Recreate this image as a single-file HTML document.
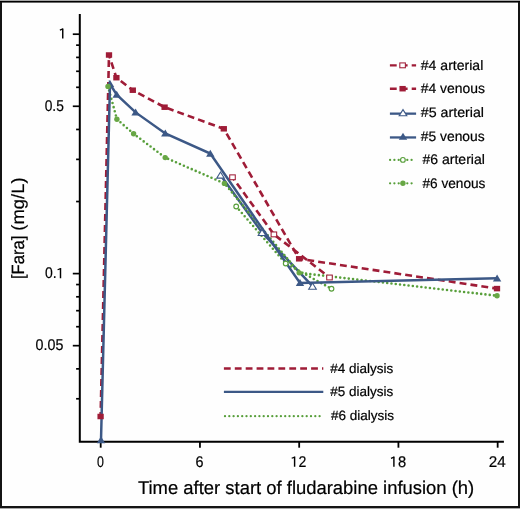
<!DOCTYPE html>
<html><head><meta charset="utf-8"><style>
html,body{margin:0;padding:0;background:#fff;}
svg{display:block;will-change:transform;}
text{font-family:"Liberation Sans",sans-serif;text-rendering:geometricPrecision;stroke:#000;stroke-width:0.2px;}
</style></head><body>
<svg width="520" height="509" viewBox="0 0 520 509">
<rect x="0" y="0" width="520" height="509" fill="#a8a8a8"/>
<rect x="0" y="1" width="520" height="507" fill="#141414"/>
<rect x="0" y="1" width="520" height="1" fill="#000"/>
<rect x="2" y="2" width="516" height="1" fill="#6a6a6a"/>
<rect x="2" y="3" width="516" height="503" fill="#fefefe"/>
<g stroke="#000" stroke-width="2" fill="none">
<path d="M79.8 14 V442.8 M78.8 441.8 H503.9"/>
<path d="M72.8 34.20 H80" stroke-width="1.7"/>
<path d="M72.8 106.27 H80" stroke-width="1.7"/>
<path d="M72.8 273.60 H80" stroke-width="1.7"/>
<path d="M72.8 345.67 H80" stroke-width="1.7"/>
<path d="M76.1 45.15 H80" stroke-width="1.7"/>
<path d="M76.1 57.40 H80" stroke-width="1.7"/>
<path d="M76.1 71.28 H80" stroke-width="1.7"/>
<path d="M76.1 87.31 H80" stroke-width="1.7"/>
<path d="M76.1 129.47 H80" stroke-width="1.7"/>
<path d="M76.1 159.38 H80" stroke-width="1.7"/>
<path d="M76.1 201.53 H80" stroke-width="1.7"/>
<path d="M76.1 284.55 H80" stroke-width="1.7"/>
<path d="M76.1 296.80 H80" stroke-width="1.7"/>
<path d="M76.1 310.68 H80" stroke-width="1.7"/>
<path d="M76.1 326.71 H80" stroke-width="1.7"/>
<path d="M76.1 368.87 H80" stroke-width="1.7"/>
<path d="M76.1 398.78 H80" stroke-width="1.7"/>
<path d="M100.70 441.8 V447.7" stroke-width="1.8"/>
<path d="M199.94 441.8 V447.7" stroke-width="1.8"/>
<path d="M299.18 441.8 V447.7" stroke-width="1.8"/>
<path d="M398.42 441.8 V447.7" stroke-width="1.8"/>
<path d="M497.66 441.8 V447.7" stroke-width="1.8"/>
</g>
<g font-family="Liberation Sans" fill="#000">
<path d="M62.03 28.65 L63.47 28.40 L63.47 38.40 L62.03 38.40 Z" fill="#000"/>
<path d="M62.95 28.95 L59.85 30.15" stroke="#000" stroke-width="1.25" fill="none"/>
<text transform="translate(44.64 110.60) scale(0.8889 1)" font-size="15.5" >0.5</text>
<text transform="translate(44.94 278.30) scale(0.9011 1)" font-size="15.5" >0.</text>
<path d="M59.78 268.25 L61.22 268.00 L61.22 278.20 L59.78 278.20 Z" fill="#000"/>
<path d="M60.70 268.55 L57.60 269.75" stroke="#000" stroke-width="1.25" fill="none"/>
<text transform="translate(35.62 350.10) scale(0.9212 1)" font-size="15.5" >0.05</text>
<text transform="translate(96.90 466.90) scale(0.8000 1)" font-size="15.5" >0</text>
<text transform="translate(195.61 466.90) scale(0.9263 1)" font-size="15.5" >6</text>
<text transform="translate(488.86 466.90) scale(0.9812 1)" font-size="15.5" >24</text>
<path d="M293.88 456.75 L295.32 456.50 L295.32 466.85 L293.88 466.85 Z" fill="#000"/>
<path d="M294.80 457.05 L291.70 458.25" stroke="#000" stroke-width="1.25" fill="none"/>
<text transform="translate(298.52 466.90) scale(0.9123 1)" font-size="15.5" >2</text>
<path d="M393.18 456.85 L394.62 456.60 L394.62 466.85 L393.18 466.85 Z" fill="#000"/>
<path d="M394.10 457.15 L391.00 458.35" stroke="#000" stroke-width="1.25" fill="none"/>
<text transform="translate(398.01 466.90) scale(0.9492 1)" font-size="15.5" >8</text>
<text transform="translate(137.93 493.80) scale(0.9961 1)" font-size="18.5" >Time after start of fludarabine infusion (h)</text>
<g transform="translate(23.75 277.9) rotate(-90)"><text transform="translate(-1.17 0.00) scale(0.9368 1)" font-size="17.8" >[Fara]</text><text transform="translate(47.24 0.00) scale(1.0351 1)" font-size="17.8" >(mg/L)</text></g>
</g>
<path d="M232.50 177.30 L273.90 234.40" fill="none" stroke="#9f1c37" stroke-width="2.6" stroke-dasharray="6.9 4.1" stroke-dashoffset="3.4"/>
<path d="M273.90 234.40 L329.50 277.50" fill="none" stroke="#9f1c37" stroke-width="2.6" stroke-dasharray="6.9 4.1" stroke-dashoffset="9.0"/>
<path d="M100.60 416.50 L109.00 55.00" fill="none" stroke="#9f1c37" stroke-width="2.6" stroke-dasharray="6.9 4.1" stroke-dashoffset="2.4"/>
<path d="M109.00 55.00 L116.40 77.70" fill="none" stroke="#9f1c37" stroke-width="2.6" stroke-dasharray="6.9 4.1" stroke-dashoffset="3.3"/>
<path d="M116.40 77.70 L132.80 90.20" fill="none" stroke="#9f1c37" stroke-width="2.6" stroke-dasharray="6.9 4.1" stroke-dashoffset="5.5"/>
<path d="M132.80 90.20 L164.60 107.20" fill="none" stroke="#9f1c37" stroke-width="2.6" stroke-dasharray="6.9 4.1" stroke-dashoffset="4.8"/>
<path d="M164.60 107.20 L223.80 128.80" fill="none" stroke="#9f1c37" stroke-width="2.6" stroke-dasharray="6.9 4.1" stroke-dashoffset="8.4"/>
<path d="M223.80 128.80 L299.10 258.80" fill="none" stroke="#9f1c37" stroke-width="2.6" stroke-dasharray="6.9 4.1" stroke-dashoffset="5.4"/>
<path d="M299.10 258.80 L497.00 288.60" fill="none" stroke="#9f1c37" stroke-width="2.6" stroke-dasharray="6.9 4.1" stroke-dashoffset="2.7"/>
<path d="M220.50 175.10 L262.00 232.50 L312.50 286.20" fill="none" stroke="#3c5886" stroke-width="2.5" stroke-linejoin="miter" stroke-miterlimit="10"/>
<path d="M236.20 206.50 L285.70 263.50 L331.50 288.70" fill="none" stroke="#589f3b" stroke-width="2.6" stroke-dasharray="0 4.3" stroke-linecap="round"/>
<path d="M108.00 86.40 L116.90 119.20 L133.60 133.80 L165.20 157.60 L224.40 183.40 L299.20 272.85 L497.05 295.75" fill="none" stroke="#589f3b" stroke-width="2.6" stroke-dasharray="0 4.3" stroke-linecap="round"/>
<path d="M101.00 440.20 L110.00 84.00 L116.70 94.60 L135.60 112.40 L165.30 133.40 L210.30 153.60 L300.00 283.00 L497.10 278.30" fill="none" stroke="#3c5886" stroke-width="2.5" stroke-linejoin="miter" stroke-miterlimit="10"/>
<rect x="229.72" y="174.87" width="5.55" height="4.85" fill="#fff" stroke="#9f1c37" stroke-width="1.05"/>
<rect x="271.12" y="231.97" width="5.55" height="4.85" fill="#fff" stroke="#9f1c37" stroke-width="1.05"/>
<rect x="326.72" y="275.07" width="5.55" height="4.85" fill="#fff" stroke="#9f1c37" stroke-width="1.05"/>
<rect x="97.45" y="413.75" width="6.3" height="5.5" fill="#9f1c37"/>
<rect x="105.85" y="52.25" width="6.3" height="5.5" fill="#9f1c37"/>
<rect x="113.25" y="74.95" width="6.3" height="5.5" fill="#9f1c37"/>
<rect x="129.65" y="87.45" width="6.3" height="5.5" fill="#9f1c37"/>
<rect x="161.45" y="104.45" width="6.3" height="5.5" fill="#9f1c37"/>
<rect x="220.65" y="126.05" width="6.3" height="5.5" fill="#9f1c37"/>
<rect x="295.95" y="256.05" width="6.3" height="5.5" fill="#9f1c37"/>
<rect x="493.85" y="285.85" width="6.3" height="5.5" fill="#9f1c37"/>
<path d="M220.50 171.96 L224.30 178.15 L216.70 178.15 Z" fill="#fff" stroke="#3c5886" stroke-width="1.1" stroke-linejoin="miter"/>
<path d="M262.00 229.36 L265.80 235.55 L258.20 235.55 Z" fill="#fff" stroke="#3c5886" stroke-width="1.1" stroke-linejoin="miter"/>
<path d="M312.50 283.06 L316.30 289.25 L308.70 289.25 Z" fill="#fff" stroke="#3c5886" stroke-width="1.1" stroke-linejoin="miter"/>
<path d="M101.00 436.30 L105.20 443.30 L96.80 443.30 Z" fill="#3c5886"/>
<path d="M110.00 80.10 L114.20 87.10 L105.80 87.10 Z" fill="#3c5886"/>
<path d="M116.70 90.70 L120.90 97.70 L112.50 97.70 Z" fill="#3c5886"/>
<path d="M135.60 108.50 L139.80 115.50 L131.40 115.50 Z" fill="#3c5886"/>
<path d="M165.30 129.50 L169.50 136.50 L161.10 136.50 Z" fill="#3c5886"/>
<path d="M210.30 149.70 L214.50 156.70 L206.10 156.70 Z" fill="#3c5886"/>
<path d="M300.00 279.10 L304.20 286.10 L295.80 286.10 Z" fill="#3c5886"/>
<path d="M497.10 274.40 L501.30 281.40 L492.90 281.40 Z" fill="#3c5886"/>
<circle cx="236.20" cy="206.50" r="2.35" fill="#fff" stroke="#589f3b" stroke-width="1.15"/>
<circle cx="285.70" cy="263.50" r="2.35" fill="#fff" stroke="#589f3b" stroke-width="1.15"/>
<circle cx="331.50" cy="288.70" r="2.35" fill="#fff" stroke="#589f3b" stroke-width="1.15"/>
<circle cx="108.00" cy="86.40" r="2.7" fill="#68a745"/>
<circle cx="116.90" cy="119.20" r="2.7" fill="#68a745"/>
<circle cx="133.60" cy="133.80" r="2.7" fill="#68a745"/>
<circle cx="165.20" cy="157.60" r="2.7" fill="#68a745"/>
<circle cx="224.40" cy="183.40" r="2.7" fill="#68a745"/>
<circle cx="299.20" cy="272.85" r="2.7" fill="#68a745"/>
<circle cx="497.05" cy="295.75" r="2.7" fill="#68a745"/>
<g font-family="Liberation Sans" fill="#000">
<path d="M389.9 65.35 H416.1" fill="none" stroke="#9f1c37" stroke-width="2.4" stroke-dasharray="6.8 4.1"/>
<rect x="399.82" y="62.92" width="5.55" height="4.85" fill="#fff" stroke="#9f1c37" stroke-width="1.05"/>
<text transform="translate(420.80 69.60) scale(1.0186 1)" font-size="13.8" >#4 arterial</text>
<path d="M389.9 88.7 H416.1" fill="none" stroke="#9f1c37" stroke-width="2.4" stroke-dasharray="6.8 4.1"/>
<rect x="399.45" y="85.95" width="6.3" height="5.5" fill="#9f1c37"/>
<text transform="translate(420.80 93.30) scale(1.0075 1)" font-size="13.8" >#4 venous</text>
<path d="M389.9 113.65 H416.1" fill="none" stroke="#3c5886" stroke-width="2.3"/>
<path d="M403.00 109.61 L406.80 115.80 L399.20 115.80 Z" fill="#fff" stroke="#3c5886" stroke-width="1.1" stroke-linejoin="miter"/>
<text transform="translate(420.80 116.90) scale(1.0302 1)" font-size="13.8" >#5 arterial</text>
<path d="M389.9 137.45 H416.1" fill="none" stroke="#3c5886" stroke-width="2.3"/>
<path d="M403.00 132.65 L407.20 139.65 L398.80 139.65 Z" fill="#3c5886"/>
<text transform="translate(420.80 140.60) scale(1.0028 1)" font-size="13.8" >#5 venous</text>
<path d="M390.1 159.9 H412" fill="none" stroke="#589f3b" stroke-width="2.3" stroke-dasharray="0 4.3" stroke-linecap="round"/>
<circle cx="402.90" cy="159.90" r="2.35" fill="#fff" stroke="#589f3b" stroke-width="1.15"/>
<text transform="translate(422.40 164.20) scale(1.0186 1)" font-size="13.8" >#6 arterial</text>
<path d="M390.1 183.3 H412" fill="none" stroke="#589f3b" stroke-width="2.3" stroke-dasharray="0 4.3" stroke-linecap="round"/>
<circle cx="402.90" cy="183.30" r="2.7" fill="#68a745"/>
<text transform="translate(422.40 187.90) scale(0.9901 1)" font-size="13.8" >#6 venous</text>
<path d="M223.9 368.5 H323.3" fill="none" stroke="#9f1c37" stroke-width="2.4" stroke-dasharray="6.8 4.1"/>
<text transform="translate(330.30 373.00) scale(0.9984 1)" font-size="13.5" >#4 dialysis</text>
<path d="M223.9 391.9 H323.3" fill="none" stroke="#3c5886" stroke-width="2.3"/>
<text transform="translate(330.30 396.40) scale(0.9984 1)" font-size="13.5" >#5 dialysis</text>
<path d="M225 416.2 H320.8" fill="none" stroke="#589f3b" stroke-width="2.3" stroke-dasharray="0 4.3" stroke-linecap="round"/>
<text transform="translate(330.90 419.80) scale(1.0032 1)" font-size="13.5" >#6 dialysis</text>
</g>
</svg>
</body></html>
